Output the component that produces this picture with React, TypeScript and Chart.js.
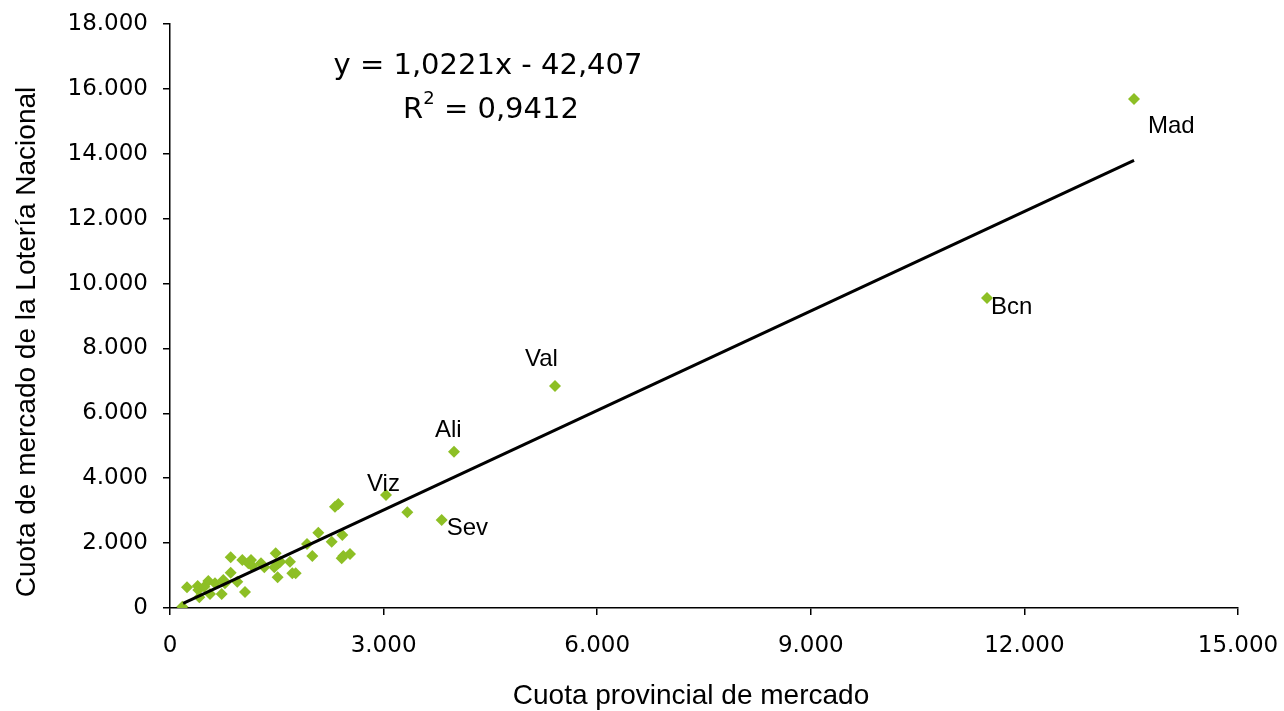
import React, { useEffect, useRef } from 'react';
import { Chart, registerables } from 'chart.js';

Chart.register(...registerables);

// Provincial market share (x) vs Lotería Nacional market share (y)
const provinceX = [
  173, 239, 389, 398, 412, 482, 538, 562, 632, 726, 749, 772, 852, 852, 945, 1016,
  1053, 1100, 1138, 1156, 1278, 1325, 1465, 1484, 1512, 1522, 1549, 1685, 1718, 1765,
  1924, 1999, 2083, 2271, 2317, 2364, 2420, 2434, 2411, 2528,
  3034, 3333, 3816, 3989, 5407, 11475, 13539,
];
const provinceY = [
  40, 638, 678, 555, 330, 657, 832, 432, 761, 432, 863, 761, 1088, 1563, 811, 1480,
  493, 1378, 1480, 1295, 1378, 1255, 1255, 1686, 946, 1378, 1428, 1428, 1070, 1070,
  1973, 1603, 2321, 2044, 3123, 3206, 2250, 1603, 1532, 1665,
  3483, 2950, 2713, 4818, 6843, 9556, 15691,
];
const provinceNames = [
  '', '', '', '', '', '', '', '', '', '', '', '', '', '', '', '',
  '', '', '', '', '', '', '', '', '', '', '', '', '', '',
  '', '', '', '', '', '', '', '', '', '',
  'Viz', '', 'Sev', 'Ali', 'Val', 'Bcn', 'Mad',
];

// Linear trend line end points (as drawn)
const trendX = [185, 13540];
const trendY = [140, 13800];

const xMin = 0;
const xMax = 15000;
const xStep = 3000;
const yMin = 0;
const yMax = 18000;
const yStep = 2000;

const equationLine = 'y = 1,0221x - 42,407';
const r2Value = '0,9412';
const xTitle = 'Cuota provincial de mercado';
const yTitle = 'Cuota de mercado de la Lotería Nacional';

// styles
const POINT_COLOR = '#8DBF25';
const TICK_FONT = 'DejaVu Sans';
const TEXT_FONT = 'Liberation Sans';
const LABEL_OFFSETS: Record<string, [number, number]> = {
  Mad: [14, 34],
  Bcn: [4, 16],
  Val: [-30, -20],
  Ali: [-19, -15],
  Viz: [-19, -4],
  Sev: [5, 15],
};

const fmt = (v: number) =>
  v === 0 ? '0' : Math.round(v).toString().replace(/\B(?=(\d{3})+(?!\d))/g, '.');

const annotationPlugin = {
  id: 'annotations',
  afterDatasetsDraw(chart: any) {
    const ctx = chart.ctx;
    const xs = chart.scales.x;
    const ys = chart.scales.y;
    ctx.save();
    ctx.fillStyle = '#000';
    ctx.textBaseline = 'alphabetic';
    ctx.textAlign = 'left';
    ctx.font = `24px "${TEXT_FONT}"`;
    provinceNames.forEach((name, i) => {
      if (!name) return;
      const off = LABEL_OFFSETS[name] || [5, -5];
      const px = xs.getPixelForValue(provinceX[i]);
      const py = ys.getPixelForValue(provinceY[i]);
      ctx.fillText(name, px + off[0], py + off[1]);
    });

    // equation
    ctx.font = `29px "${TICK_FONT}"`;
    ctx.textAlign = 'center';
    ctx.fillText(equationLine, 488, 74);

    // R² line
    const bigFont = `29px "${TICK_FONT}"`;
    const supFont = `18px "${TICK_FONT}"`;
    ctx.font = bigFont;
    const wR = ctx.measureText('R').width;
    const rest = ' = ' + r2Value;
    const wRest = ctx.measureText(rest).width;
    ctx.font = supFont;
    const wSup = ctx.measureText('2').width;
    const total = wR + wSup + wRest;
    let x0 = 491 - total / 2;
    ctx.textAlign = 'left';
    ctx.font = bigFont;
    ctx.fillText('R', x0, 118);
    x0 += wR;
    ctx.font = supFont;
    ctx.fillText('2', x0, 104);
    x0 += wSup;
    ctx.font = bigFont;
    ctx.fillText(rest, x0, 118);

    // axis titles
    ctx.font = `28px "${TEXT_FONT}"`;
    ctx.textAlign = 'center';
    ctx.textBaseline = 'alphabetic';
    ctx.fillText(xTitle, 691, 704);
    ctx.save();
    ctx.translate(35, 342);
    ctx.rotate(-Math.PI / 2);
    ctx.fillText(yTitle, 0, 0);
    ctx.restore();
    ctx.restore();
  },
};

export default function App() {
  const ref = useRef<HTMLCanvasElement | null>(null);

  useEffect(() => {
    if (!ref.current) return;
    const points = provinceX.map((x, i) => ({ x, y: provinceY[i] }));
    const trend = trendX.map((x, i) => ({ x, y: trendY[i] }));
    const chart = new Chart(ref.current, {
      type: 'scatter',
      data: {
        datasets: [
          {
            label: 'Tendencia',
            data: trend,
            showLine: true,
            borderColor: '#000',
            borderWidth: 3,
            pointRadius: 0,
            fill: false,
            order: 0,
          } as any,
          {
            label: 'Provincias',
            data: points,
            pointStyle: 'rectRot',
            pointRadius: 6,
            backgroundColor: POINT_COLOR,
            borderColor: POINT_COLOR,
            borderWidth: 0,
            order: 1,
          } as any,
        ],
      },
      options: {
        responsive: false,
        animation: false,
        devicePixelRatio: 1,
        layout: { padding: { left: 0, right: 46, top: 24, bottom: 0 } },
        plugins: {
          legend: { display: false },
          tooltip: { enabled: false },
        },
        scales: {
          x: {
            type: 'linear',
            position: 'bottom',
            min: xMin,
            max: xMax,
            ticks: {
              stepSize: xStep,
              color: '#000',
              font: { family: TICK_FONT, size: 23 },
              padding: 17,
              maxRotation: 0,
              callback: (v: any) => fmt(Number(v)),
            },
            grid: {
              display: true,
              drawOnChartArea: false,
              drawTicks: true,
              tickLength: 7,
              color: '#000',
              lineWidth: 1.5,
            },
            border: { display: true, color: '#000', width: 1.5 },
            title: { display: false },
            afterFit: (s: any) => {
              s.height = 103;
              s.paddingLeft = 0;
              s.paddingRight = 0;
            },
          },
          y: {
            type: 'linear',
            min: yMin,
            max: yMax,
            ticks: {
              stepSize: yStep,
              color: '#000',
              font: { family: TICK_FONT, size: 23 },
              padding: 15,
              callback: (v: any) => fmt(Number(v)),
            },
            grid: {
              display: true,
              drawOnChartArea: false,
              drawTicks: true,
              tickLength: 7,
              color: '#000',
              lineWidth: 1.5,
            },
            border: { display: true, color: '#000', width: 1.5 },
            title: { display: false },
            afterFit: (s: any) => {
              s.width = 170;
              s.paddingTop = 0;
              s.paddingBottom = 0;
            },
          },
        },
      },
      plugins: [annotationPlugin],
    });
    return () => chart.destroy();
  }, []);

  return (
    <div style={{ position: 'fixed', left: 0, top: 0, width: 1284, height: 711, background: '#fff' }}>
      <canvas ref={ref} width={1284} height={711} style={{ display: 'block' }} />
    </div>
  );
}
